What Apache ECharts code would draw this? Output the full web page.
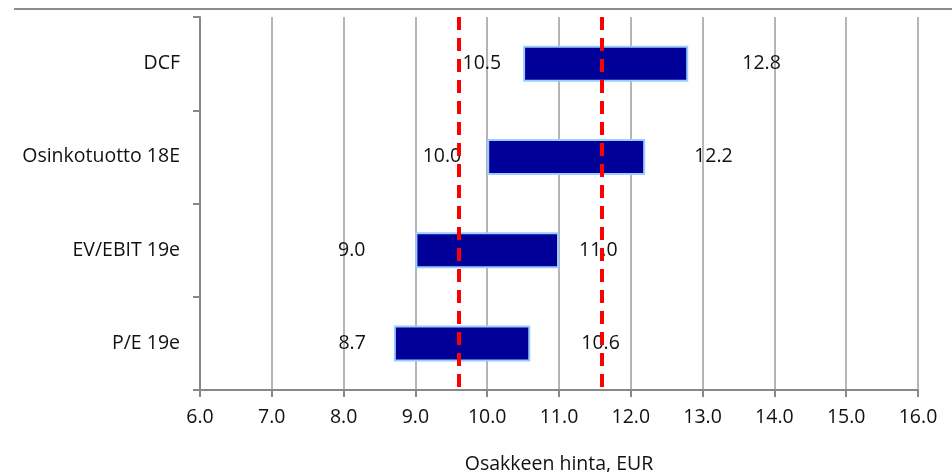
<!DOCTYPE html>
<html>
<head>
<meta charset="utf-8">
<script src="https://cdn.jsdelivr.net/npm/echarts@6/dist/echarts.min.js"></script>
<style>
	html, body { margin: 0; padding: 0; background: #fff; }
	#chart { width: 952px; height: 472px; }
</style>
</head>
<body>
<div id="chart"></div>
<script>
	// data
	var categories = ['DCF', 'Osinkotuotto 18E', 'EV/EBIT 19e', 'P/E 19e'];
	var lowValues = [10.5, 10.0, 9.0, 8.7];
	var highValues = [12.8, 12.2, 11.0, 10.6];
	var refLines = [9.6, 11.6];
	var axisMin = 6, axisMax = 16, axisStep = 1;

	// label gaps (px), per bar
	var lowGap = [22, 26, 50, 28];
	var highGap = [54, 49, 20, 51];

	var font = '"Open Sans", "Liberation Sans", sans-serif';
	var fs = 19.5;

	var baseData = lowValues.map(function(v, i) {
		return { value: v, label: { distance: lowGap[i] } };
	});
	var rangeData = highValues.map(function(v, i) {
		return { value: Math.round((v - lowValues[i]) * 10) / 10, label: { distance: highGap[i] } };
	});

	var myChart = echarts.init(document.getElementById('chart'));
	var option = {
		animation: false,
		grid: { left: 200, right: 34, top: 17, bottom: 82, outerBoundsMode: 'none' },
		graphic: [{
			type: 'line',
			shape: { x1: 14, y1: 9, x2: 952, y2: 9 },
			style: { stroke: '#666', lineWidth: 1.5 }
		}],
		xAxis: {
			type: 'value',
			min: axisMin,
			max: axisMax,
			interval: axisStep,
			name: 'Osakkeen hinta, EUR',
			nameLocation: 'middle',
			nameGap: 64,
			nameTextStyle: { fontFamily: font, fontSize: fs, color: '#111' },
			axisLine: { show: true, lineStyle: { color: '#888', width: 2 } },
			axisTick: { show: true, length: 7, lineStyle: { color: '#888', width: 2 } },
			axisLabel: {
				margin: 17,
				fontFamily: font, fontSize: fs, color: '#111',
				formatter: function(v) { return v.toFixed(1); }
			},
			splitLine: { show: true, lineStyle: { color: '#b5b5b5', width: 2 } }
		},
		yAxis: {
			type: 'category',
			inverse: true,
			data: categories,
			axisLine: { show: true, lineStyle: { color: '#888', width: 2 } },
			axisTick: { show: true, length: 7, lineStyle: { color: '#888', width: 2 } },
			axisLabel: { margin: 20, fontFamily: font, fontSize: fs, color: '#111' }
		},
		series: [
			{
				name: 'low',
				type: 'bar',
				stack: 'range',
				barWidth: 36,
				itemStyle: { color: 'rgba(0,0,0,0)' },
				label: {
					show: true,
					position: 'insideRight',
					fontFamily: font, fontSize: fs, color: '#111',
					formatter: function(p) { return lowValues[p.dataIndex].toFixed(1); }
				},
				data: baseData
			},
			{
				name: 'range',
				type: 'bar',
				stack: 'range',
				barWidth: 36,
				itemStyle: { color: '#000099', borderColor: '#99ccff', borderWidth: 2 },
				label: {
					show: true,
					position: 'right',
					fontFamily: font, fontSize: fs, color: '#111',
					formatter: function(p) { return highValues[p.dataIndex].toFixed(1); }
				},
				markLine: {
					silent: true,
					symbol: 'none',
					label: { show: false },
					lineStyle: { color: '#ff0000', width: 4, type: [13, 8] },
					data: refLines.map(function(v) { return { xAxis: v }; })
				},
				data: rangeData
			}
		]
	};
	myChart.setOption(option);
</script>
</body>
</html>
